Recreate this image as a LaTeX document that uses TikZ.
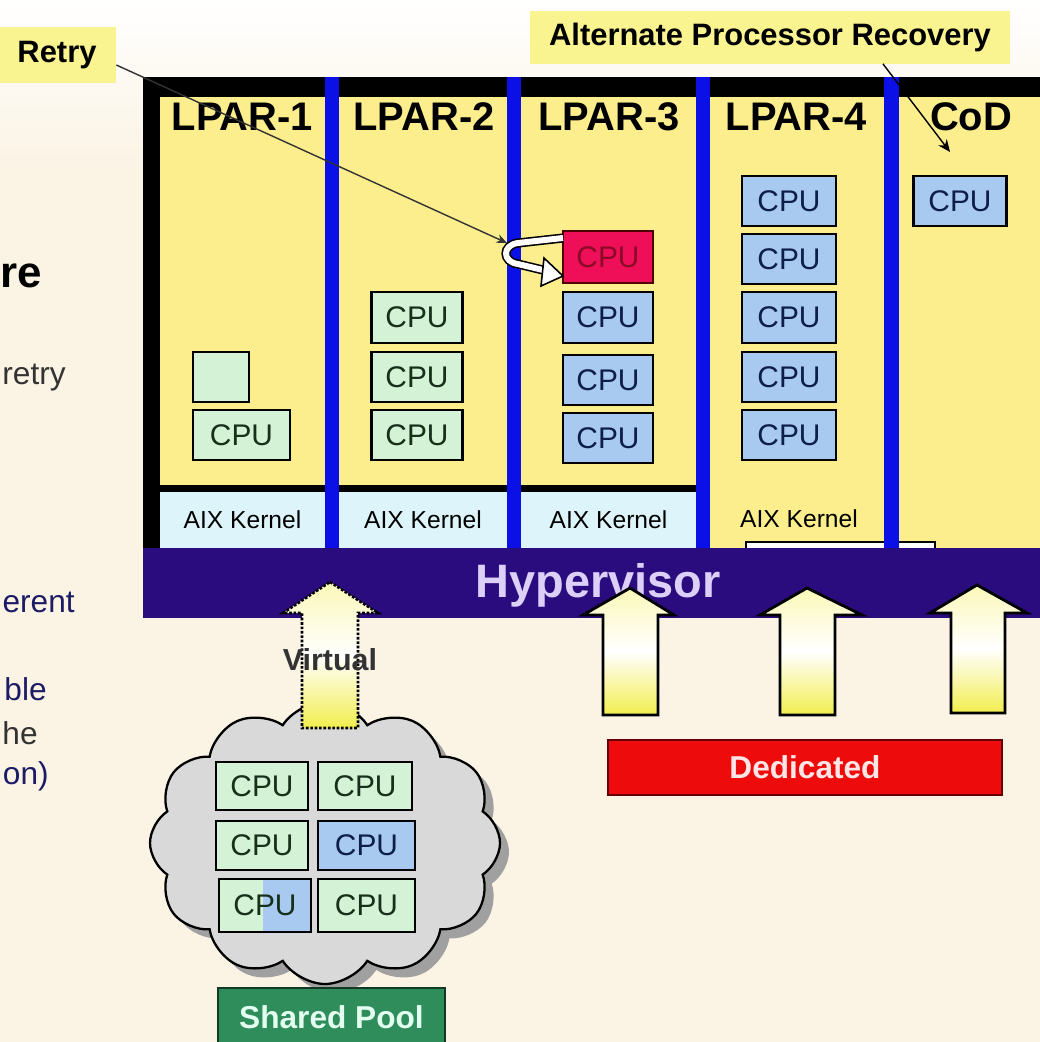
\documentclass[tikz,border=0pt]{standalone}
\usepackage{fontspec}
\setmainfont{Liberation Sans}
\usetikzlibrary{shapes.symbols,arrows.meta}
\definecolor{bgcream}{HTML}{FBF3E4}
\definecolor{panel}{HTML}{FCEE8C}
\definecolor{divblue}{HTML}{0A10E6}
\definecolor{kcyan}{HTML}{DDF4FA}
\definecolor{hypnavy}{HTML}{2A0C7E}
\definecolor{hyptext}{HTML}{DCD0F8}
\definecolor{cpug}{HTML}{D4F2D6}
\definecolor{cpugtext}{HTML}{17301A}
\definecolor{cpub}{HTML}{A8CAF0}
\definecolor{cpubtext}{HTML}{0E1E4C}
\definecolor{cpur}{HTML}{EE0F58}
\definecolor{cpurtext}{HTML}{8A0A28}
\definecolor{callout}{HTML}{FAF490}
\definecolor{arrtop}{HTML}{FBF8B8}
\definecolor{arrbot}{HTML}{F2EE4E}
\definecolor{cloudfill}{HTML}{D9D9D9}
\definecolor{cloudshadow}{HTML}{A0A0A0}
\definecolor{dedred}{HTML}{EE0B0B}
\definecolor{dedtext}{HTML}{FFE6E6}
\definecolor{poolgreen}{HTML}{2F8D5C}
\definecolor{pooltext}{HTML}{E2FFF0}
\definecolor{navytext}{HTML}{1C1C66}
\definecolor{graytext}{HTML}{333333}
\newcommand\blockarrow[9]{\path[#9] (#1,#2) -- (#4,#7) -- (#6,#7) -- (#6,#8) -- (#5,#8) -- (#5,#7) -- (#3,#7) -- cycle;}
\tikzset{
 sz/.style 2 args={minimum width=#1*0.02cm,minimum height=#2*0.02cm},
 cpubox/.style={draw=black,line width=1.5pt,inner sep=0pt,outer sep=0pt,font=\fontsize{17}{17}\selectfont},
 gcpu/.style={cpubox,fill=cpug,text=cpugtext},
 bcpu/.style={cpubox,fill=cpub,text=cpubtext},
 rcpu/.style={cpubox,draw=black!70!red,fill=cpur,text=cpurtext},
 lpar/.style={inner sep=0pt,font=\bfseries\fontsize{22.7}{24}\selectfont},
 kernel/.style={inner sep=0pt,font=\fontsize{14}{14}\selectfont},
 kbox/.style={fill=kcyan,inner sep=0pt,outer sep=0pt},
 callbox/.style={fill=callout,inner sep=0pt,font=\bfseries\fontsize{17.6}{18}\selectfont},
 blockarr/.style={draw=black,line width=1.6pt,line join=miter,top color=arrtop,bottom color=arrbot,middle color=white},
 virtarr/.style={draw=black,line width=1.5pt,densely dotted,top color=arrtop,bottom color=arrbot,middle color=white},
 sidetxt/.style={anchor=base east,inner sep=0pt,font=\fontsize{18}{18}\selectfont},
 leader/.style={draw=graytext,line width=0.8pt,-{Stealth[length=6pt,width=5pt]}}
}
\begin{document}
\begin{tikzpicture}[x=0.02cm,y=-0.02cm]
\useasboundingbox (0,0) rectangle (1040,1042);
% background
\fill[bgcream] (0,0) rectangle (1040,1042);
\shade[top color=white,bottom color=bgcream] (0,0) rectangle (1040,170);
% frame
\fill[black] (143,77) rectangle (1040,560);
\fill[panel] (160,97) rectangle (325,548);
\fill[panel] (339,97) rectangle (507,548);
\fill[panel] (521,97) rectangle (696,548);
\fill[panel] (710,97) rectangle (884,548);
\fill[panel] (899,97) rectangle (1040,548);
% kernel layer
\fill[black] (160,485) rectangle (696,492);
\node[kbox,sz={165}{56}] (k1) at (242.5,520) {};
\node[kbox,sz={168}{56}] (k2) at (423,520) {};
\node[kbox,sz={175}{56}] (k3) at (608.5,520) {};
\node[kernel] at (k1) {AIX Kernel};
\node[kernel] at (k2) {AIX Kernel};
\node[kernel] at (k3) {AIX Kernel};
\node[kernel] (k4) at (799,519) {AIX Kernel};
\filldraw[fill=white,draw=black,line width=1.6pt] (746,542) rectangle (935,570);
% dividers
\fill[divblue] (325,77) rectangle (339,548);
\fill[divblue] (507,77) rectangle (521,548);
\fill[divblue] (696,77) rectangle (710,548);
\fill[divblue] (884,77) rectangle (899,548);
% hypervisor
\node[fill=hypnavy,inner sep=0pt,outer sep=0pt,sz={897}{70}] (hyp) at (591.5,583) {};
\node[anchor=base,inner sep=0pt,text=hyptext,font=\bfseries\fontsize{26.7}{28}\selectfont] (hyptxt) at (598,597) {Hypervisor};
% LPAR labels
\node[lpar] (l1) at (242.5,117) {LPAR-1};
\node[lpar] (l2) at (424,117) {LPAR-2};
\node[lpar] (l3) at (609,117) {LPAR-3};
\node[lpar] (l4) at (796.5,117) {LPAR-4};
\node[lpar] (l5) at (971,117) {CoD};
% LPAR-1
\node[gcpu,sz={56}{50}] (p1a) at (221,377) {};
\node[gcpu,sz={97}{50}] (p1b) at (241.5,435) {CPU};
% LPAR-2
\node[gcpu,sz={91}{51}] (p2a) at (417,317.5) {CPU};
\node[gcpu,sz={91}{50}] (p2b) at (417,377) {CPU};
\node[gcpu,sz={91}{50}] (p2c) at (417,435) {CPU};
% LPAR-3
\node[rcpu,sz={90}{52}] (p3r) at (608,257) {CPU};
\node[bcpu,sz={90}{51}] (p3a) at (608,317.5) {CPU};
\node[bcpu,sz={90}{50}] (p3b) at (608,380) {CPU};
\node[bcpu,sz={90}{50}] (p3c) at (608,438) {CPU};
% LPAR-4
\node[bcpu,sz={94}{50}] (p4a) at (789,201) {CPU};
\node[bcpu,sz={94}{50}] (p4b) at (789,259) {CPU};
\node[bcpu,sz={94}{51}] (p4c) at (789,317.5) {CPU};
\node[bcpu,sz={94}{50}] (p4d) at (789,377) {CPU};
\node[bcpu,sz={94}{50}] (p4e) at (789,435) {CPU};
% CoD
\node[bcpu,sz={93}{50}] (pc) at (960,201) {CPU};
% U-turn retry arrow at red CPU
\draw[line width=0.9pt,double=white,double distance=0.12cm] (p3r.west |- 0,238) -- (518,243) .. controls (502,245) and (502,262) .. (518,264) -- (547,271);
\filldraw[fill=white,draw=black,line width=0.9pt,line join=miter] (544,258) -- (563,276) -- (541,286) -- cycle;
% Retry callout
\node[callbox,sz={118}{56}] (retry) at (57,55) {Retry};
\coordinate (retrytip) at (507,243);
\draw[leader] ([yshift=-0.2cm]retry.east) -- (retrytip);
% Alternate Processor Recovery callout
\node[callbox,sz={480}{53}] (apr) at (770,37) {Alternate Processor Recovery};
\coordinate (codtip) at (950,152);
\draw[draw=black,line width=0.8pt,-{Stealth[length=7pt,width=6pt]}] ([xshift=2.26cm]apr.south) -- (codtip);
% shared pool cloud
\node[cloud,cloud puffs=12,cloud puff arc=115,aspect=1.25,fill=cloudshadow,sz={350}{282},inner sep=0pt] (cloudsh) at (334,852) {};
\node[cloud,cloud puffs=12,cloud puff arc=115,aspect=1.25,fill=cloudfill,draw=black,line width=1.3pt,sz={350}{282},inner sep=0pt] (cloud) at (325,843) {};
\node[gcpu,sz={92}{48}] (s11) at (262,786) {CPU};
\node[gcpu,sz={94}{48}] (s12) at (365,786) {CPU};
\node[gcpu,sz={92}{49}] (s21) at (262,845.5) {CPU};
\node[bcpu,sz={97}{49}] (s22) at (366.5,845.5) {CPU};
\node[gcpu,sz={92}{53},path picture={\fill[cpub] ([xshift=-0.04cm]path picture bounding box.south) rectangle (path picture bounding box.north east);}] (s31) at (265,905.5) {CPU};
\node[gcpu,sz={97}{53}] (s32) at (366.5,905.5) {CPU};
% arrows
\blockarrow{330}{582}{283}{378}{302}{358}{613}{728}{virtarr}
\node[inner sep=0pt,text=graytext,font=\bfseries\fontsize{17.3}{18}\selectfont] (virt) at (330,660) {Virtual};
\blockarrow{630}{588}{583}{674}{603}{658}{615}{715}{blockarr}
\blockarrow{807}{588}{760}{862}{780}{835}{615}{715}{blockarr}
\blockarrow{977}{585}{930}{1027}{951}{1005}{613}{713}{blockarr}
% Dedicated
\node[fill=dedred,draw=black!60!red,line width=1pt,sz={394}{55},inner sep=0pt,text=dedtext,font=\bfseries\fontsize{18}{18}\selectfont] (ded) at (805,767.5) {Dedicated};
% Shared Pool
\node[fill=poolgreen,draw=black!60!poolgreen,line width=1pt,sz={227}{58},inner sep=0pt,text=pooltext,font=\bfseries\fontsize{18}{18}\selectfont] (pool) at (331.5,1017) {Shared Pool};
% left side text fragments
\node[sidetxt,font=\bfseries\fontsize{25}{25}\selectfont] (t1) at (42,287) {re};
\node[sidetxt,text=graytext] (t2) at (66,384) {retry};
\node[sidetxt,text=navytext] (t3) at (75,612) {erent};
\node[sidetxt,text=navytext] (t4) at (47,700) {ble};
\node[sidetxt,text=graytext] (t5) at (38,744) {he};
\node[sidetxt,text=navytext] (t6) at (49,784) {on)};
\end{tikzpicture}
\end{document}
